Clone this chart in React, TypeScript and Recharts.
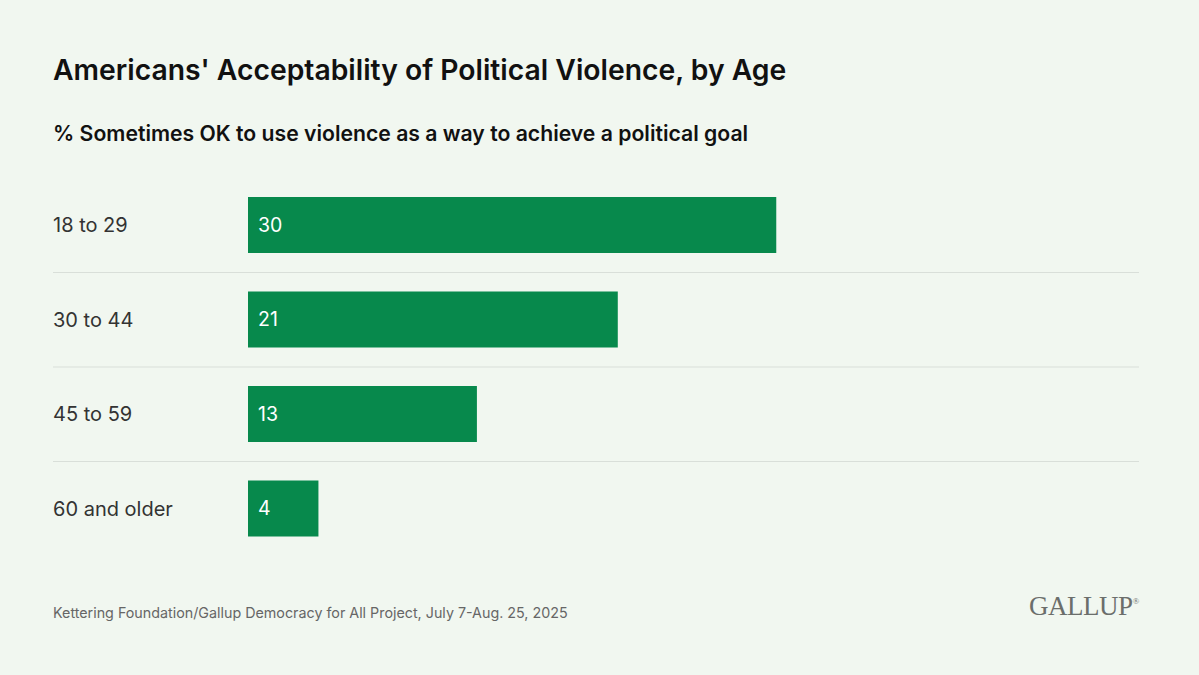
import React from 'react';
import { BarChart, Bar, XAxis, YAxis, LabelList } from 'recharts';

const ageGroups = ['18 to 29', '30 to 44', '45 to 59', '60 and older'];
const sometimesOk = [30, 21, 13, 4];

const data = ageGroups.map((age, i) => ({ age, value: sometimesOk[i] }));

const W = 1199;
const H = 675;
const MARGIN = { top: 178, right: 60, bottom: 119, left: 0 };
const Y_AXIS_W = 248;
const BAND = (H - MARGIN.top - MARGIN.bottom) / ageGroups.length;

const FONT = 'Inter, "Noto Sans", sans-serif';

const AgeTick = (props: any) => {
  const { y, payload, index } = props;
  const last = index === ageGroups.length - 1;
  return (
    <g>
      <text x={53} y={y} dy={7} textAnchor="start" fontSize={20} fill="#333" fontFamily={FONT}>
        {payload.value}
      </text>
      {!last && (
        <line x1={53} x2={1139} y1={y + BAND / 2} y2={y + BAND / 2} stroke="#d9dfd9" strokeWidth={1} />
      )}
    </g>
  );
};

export default function App() {
  return (
    <div style={{ position: 'absolute', left: 0, top: 0, width: W, height: H, background: '#f1f7f0', fontFamily: FONT, overflow: 'hidden' }}>
      <div style={{ position: 'absolute', left: 53, top: 53, fontSize: 28.3, fontWeight: 600, color: '#111', whiteSpace: 'nowrap' }}>
        Americans' Acceptability of Political Violence, by Age
      </div>
      <div style={{ position: 'absolute', left: 53, top: 120, fontSize: 21.2, fontWeight: 600, color: '#111', whiteSpace: 'nowrap' }}>
        % Sometimes OK to use violence as a way to achieve a political goal
      </div>
      <div style={{ position: 'absolute', left: 0, top: 0 }}>
        <BarChart width={W} height={H} data={data} layout="vertical" margin={MARGIN}>
          <XAxis type="number" domain={[0, 50.6]} hide allowDataOverflow />
          <YAxis
            type="category"
            dataKey="age"
            width={Y_AXIS_W}
            axisLine={false}
            tickLine={false}
            tick={<AgeTick />}
          />
          <Bar dataKey="value" fill="#07894c" barSize={56} isAnimationActive={false}>
            <LabelList dataKey="value" position="insideLeft" offset={10} fill="#fff" fontSize={19.5} fontFamily={FONT} />
          </Bar>
        </BarChart>
      </div>
      <div style={{ position: 'absolute', left: 53, top: 604, fontSize: 14.3, color: '#666', whiteSpace: 'nowrap' }}>
        Kettering Foundation/Gallup Democracy for All Project, July 7-Aug. 25, 2025
      </div>
      <div style={{ position: 'absolute', left: 1029, top: 591, fontSize: 27, color: '#6b6e6b', fontFamily: '"Liberation Serif", "DejaVu Serif", serif', whiteSpace: 'nowrap', letterSpacing: -0.5 }}>
        GALLUP<span style={{ fontSize: 9, verticalAlign: 'top', position: 'relative', top: 5 }}>®</span>
      </div>
    </div>
  );
}
